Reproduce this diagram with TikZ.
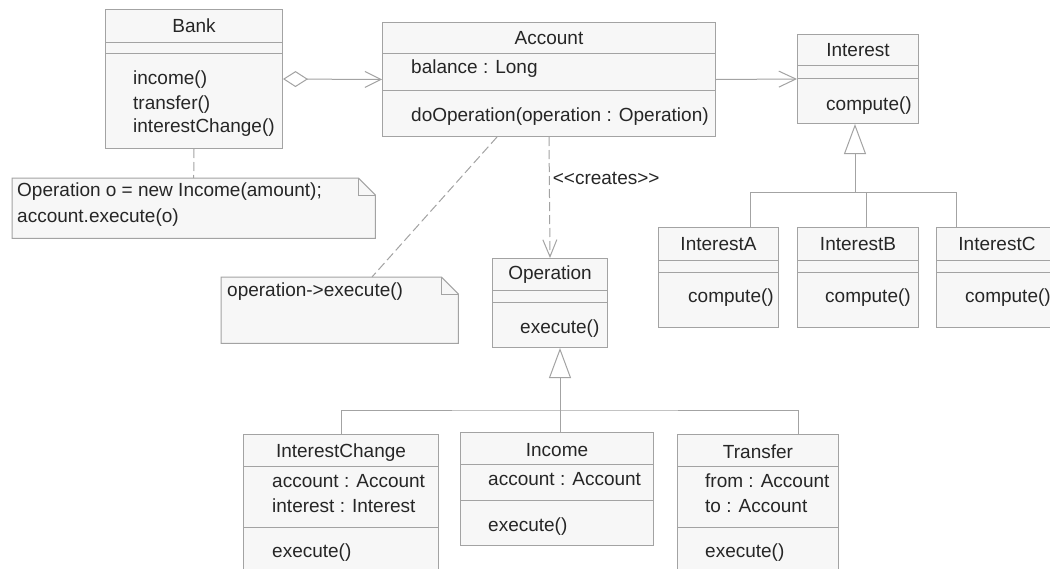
\documentclass[tikz,border=0pt]{standalone}
\usepackage{fontspec}
\setmainfont{Liberation Sans}[Ligatures=TeXOff]
\usetikzlibrary{arrows.meta,calc}
\definecolor{edgegray}{HTML}{A3A3A3}
\definecolor{boxfill}{HTML}{F7F7F7}
\definecolor{ink}{HTML}{262626}
% horizontal compartment divider inside a class box, #2 pt below its top edge
\newcommand\cdiv[2]{\draw[edge] ([yshift=-#2pt]#1.north west) -- ([yshift=-#2pt]#1.north east);}
% UML note outline with a folded corner around an (invisible) node
\newcommand\notebody[1]{%
  \draw[edge, fill=boxfill] (#1.north west) -- ([xshift=-17pt]#1.north east)
     -- ([yshift=-17pt]#1.north east) -- (#1.south east) -- (#1.south west) -- cycle;
  \draw[edge] ([xshift=-17pt]#1.north east) -- ([xshift=-17pt,yshift=-17pt]#1.north east)
     -- ([yshift=-17pt]#1.north east);}
\begin{document}
\begin{tikzpicture}[x=1pt,y=-1pt,
  edge/.style={draw=edgegray, line width=1pt},
  cls/.style={draw=edgegray, fill=boxfill, line width=1pt, inner sep=0pt, anchor=north west},
  txt/.style={inner sep=0pt, font=\fontsize{19}{25}\selectfont, text=ink},
  lft/.style={txt, anchor=west},
  dep/.style={edge, dash pattern=on 9pt off 4pt},
  gen/.style={edge, -{Triangle[open, length=30pt, width=22pt]}},
  barb/.style={-{Straight Barb[length=17pt, width=16pt]}},
  notebox/.style={inner sep=0pt, anchor=north west},
]
\useasboundingbox[fill=white] (0,0) rectangle (1050,568);
\clip (0,0) rectangle (1050,568);

% ---------- Bank ----------
\node[cls, minimum width=177pt, minimum height=139pt] (bank) at (105,9) {};
\cdiv{bank}{33}\cdiv{bank}{44}
\node[txt] (bank-t) at (bank.north |- 0,26) {Bank};
\node[lft] (bank-m1) at (133,80) {income()};
\node[lft] (bank-m2) at (133,105) {transfer()};
\node[lft] (bank-m3) at (133,128) {interestChange()};

% ---------- Account ----------
\node[cls, minimum width=333pt, minimum height=114pt] (account) at (382,22) {};
\cdiv{account}{31}\cdiv{account}{68}
\node[txt] (account-t) at (account.north |- 0,38) {Account};
\node[lft] (account-a1) at (411,69) {balance : Long};
\node[lft] (account-m1) at (411,117) {doOperation(operation : Operation)};

% ---------- Interest ----------
\node[cls, minimum width=121pt, minimum height=89pt] (interest) at (797,34) {};
\cdiv{interest}{31}\cdiv{interest}{44}
\node[txt] (interest-t) at (interest.north |- 0,50) {Interest};
\node[lft] (interest-m1) at (826,106) {compute()};

% ---------- Interest subclasses ----------
\node[cls, minimum width=120pt, minimum height=100pt] (ia) at (658,227) {};
\cdiv{ia}{33}\cdiv{ia}{45}
\node[txt] (ia-t) at (ia.north |- 0,244) {InterestA};
\node[lft] (ia-m1) at (688,298) {compute()};

\node[cls, minimum width=121pt, minimum height=100pt] (ib) at (797,227) {};
\cdiv{ib}{33}\cdiv{ib}{45}
\node[txt] (ib-t) at (ib.north |- 0,244) {InterestB};
\node[lft] (ib-m1) at (825,298) {compute()};

\node[cls, minimum width=121pt, minimum height=100pt] (ic) at (936,227) {};
\cdiv{ic}{33}\cdiv{ic}{45}
\node[txt] (ic-t) at (ic.north |- 0,244) {InterestC};
\node[lft] (ic-m1) at (965,298) {compute()};

% ---------- Operation ----------
\node[cls, minimum width=115pt, minimum height=89pt] (operation) at (492,258) {};
\cdiv{operation}{32}\cdiv{operation}{44}
\node[txt] (operation-t) at (operation.north |- 0,275) {Operation};
\node[lft] (operation-m1) at (520,329) {execute()};

% ---------- Operation subclasses ----------
\node[cls, minimum width=195pt, minimum height=160pt] (ichg) at (243,434) {};
\cdiv{ichg}{32}\cdiv{ichg}{93}
\node[txt] (ichg-t) at (ichg.north |- 0,453) {InterestChange};
\node[lft] (ichg-a1) at (272,481) {account : Account};
\node[lft] (ichg-a2) at (272,506) {interest : Interest};
\node[lft] (ichg-m1) at (272,553) {execute()};

\node[cls, minimum width=193pt, minimum height=113pt] (income) at (460,432) {};
\cdiv{income}{32}\cdiv{income}{68}
\node[txt] (income-t) at (income.north |- 0,450) {Income};
\node[lft] (income-a1) at (488,479) {account : Account};
\node[lft] (income-m1) at (488,527) {execute()};

\node[cls, minimum width=161pt, minimum height=160pt] (transfer) at (677,434) {};
\cdiv{transfer}{32}\cdiv{transfer}{93}
\node[txt] (transfer-t) at (transfer.north |- 0,452) {Transfer};
\node[lft] (transfer-a1) at (705,481) {from : Account};
\node[lft] (transfer-a2) at (705,506) {to : Account};
\node[lft] (transfer-m1) at (705,553) {execute()};

% ---------- Notes ----------
\node[notebox, minimum width=363pt, minimum height=60pt] (note1) at (12,178) {};
\notebody{note1}
\node[lft] (note1-l1) at (17,192) {Operation o = new Income(amount);};
\node[lft] (note1-l2) at (17,218) {account.execute(o)};

\node[notebox, minimum width=237pt, minimum height=66pt] (note2) at (221,277) {};
\notebody{note2}
\node[lft] (note2-l1) at (227,292) {operation->execute()};

% ---------- Associations ----------
\draw[edge, {Diamond[open, length=25pt, width=16pt]}-{Straight Barb[length=16pt, width=16pt]}]
  (bank.east) -- (account.west);
\draw[edge, barb] (account.east) -- (interest.west);

% ---------- Note anchors ----------
\draw[dep] (bank.south) -- (note1.north);
\coordinate (acc-foot) at ([xshift=115pt]account.south west);
\coordinate (note2-top) at ([xshift=151pt]note2.north west);
\draw[dep] (acc-foot) -- (note2-top);

% ---------- Dependency ----------
\draw[dep, -{Straight Barb[length=17pt, width=14pt]}] (account.south) -- (operation.north)
  node[lft, pos=0.345, xshift=3pt] (creates) {<<creates>>};

% ---------- Generalisation: Interest ----------
\coordinate (ig) at (855,192);
\coordinate (ia-top) at ([xshift=92pt]ia.north west);
\coordinate (ib-top) at ([xshift=69pt]ib.north west);
\coordinate (ic-top) at ([xshift=20pt]ic.north west);
\draw[gen] (ig) -- (interest.south -| ig);
\draw[edge] (ia-top) |- (ic-top |- ig) -- (ic-top);
\draw[edge] (ib-top) -- (ib-top |- ig);

% ---------- Generalisation: Operation ----------
\coordinate (og) at (560,410);
\coordinate (tr-top) at ([xshift=121pt]transfer.north west);
\draw[gen] (og) -- (operation.south -| og);
\draw[edge] (ichg.north) |- (og) -| (tr-top);
\draw[edge] (og) -- (income.north -| og);
\end{tikzpicture}
\end{document}
